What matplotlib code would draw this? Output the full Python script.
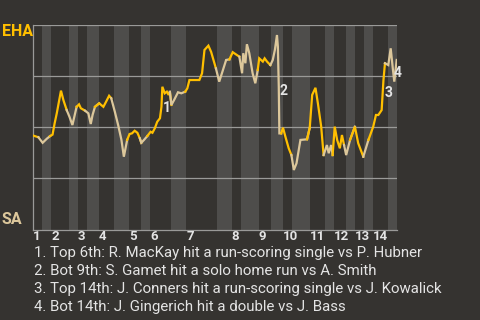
import matplotlib
matplotlib.use('Agg')
from matplotlib import pyplot as plt

# half-inning boundaries in plate appearances (top 1st starts at 0)
half_starts = [0, 3, 6, 12, 15, 18, 22, 27, 32, 36, 39, 46, 51, 61, 66, 69, 75,
               79, 83, 86, 92, 97, 100, 104, 107, 110, 113, 118, 121]
innings = ['1', '2', '3', '4', '5', '6', '7', '8', '9', '10', '11', '12', '13', '14']

# win probability for EHA (%)
pa = [0.1, 1.8, 3.2, 4.6, 5.7, 6.5, 7.2, 7.9, 9.3, 10.1, 11.2, 12.1, 13.1, 14.5,
      15.3, 15.9, 17.3, 18.4, 19.2, 19.8, 20.6, 22.0, 23.4, 24.3, 25.3, 26.0,
      27.2, 28.3, 29.4, 30.2, 31.3, 32.1, 32.9, 33.8, 34.7, 35.5, 36.0, 36.9,
      38.0, 39.1, 39.7, 40.5, 41.3, 42.2, 42.7, 43.0, 43.8, 44.5, 45.1, 45.5,
      46.0, 46.9, 48.2, 49.3, 50.6, 51.3, 52.0, 55.3, 56.2, 57.0, 58.3, 59.2,
      60.8, 61.9, 62.8, 64.2, 65.3, 66.4, 68.6, 69.5, 69.9, 70.6, 71.1, 71.9,
      73.0, 73.9, 74.7, 75.2, 76.4, 77.0, 77.8, 78.9, 79.7, 80.4, 81.1, 81.4,
      81.7, 81.9, 82.5, 83.1, 83.9, 85.0, 85.9, 86.7, 87.6, 88.9, 91.1, 92.0,
      92.8, 93.9, 94.7, 95.8, 96.6, 97.7, 98.3, 99.1, 99.6, 100.3, 101.1, 102.0,
      102.7, 103.4, 104.1, 105.4, 107.0, 108.1, 109.8, 111.5, 113.1, 114.0,
      114.8, 115.9, 116.5, 117.0, 118.1, 118.9, 119.6, 120.1, 120.9]
wp = [45.9, 45.1, 42.4, 44.4, 45.7, 46.4, 52.0, 56.8, 67.9, 63.3, 58.4, 55.2,
      51.1, 60.0, 61.2, 59.3, 58.1, 56.8, 51.6, 56.0, 60.0, 61.7, 60.0, 62.5,
      65.4, 64.2, 57.6, 51.1, 43.8, 35.6, 43.8, 46.7, 47.0, 48.3, 47.3, 44.6,
      42.4, 43.8, 45.7, 47.8, 47.3, 49.5, 52.7, 54.4, 60.0, 69.8, 66.6, 67.4,
      65.8, 67.4, 60.9, 63.3, 67.1, 66.6, 67.4, 69.0, 73.1, 73.1, 76.4, 87.8,
      89.9, 86.9, 78.8, 72.3, 76.4, 82.9, 83.2, 86.7, 84.5, 76.4, 86.2, 81.3,
      90.6, 86.2, 76.4, 71.5, 78.0, 83.7, 82.1, 83.7, 82.1, 80.4, 82.9, 87.8,
      95.1, 89.4, 69.8, 47.0, 47.0, 49.8, 45.4, 39.7, 36.4, 29.1, 32.4, 43.8,
      44.1, 49.8, 65.8, 69.3, 61.7, 50.3, 36.4, 41.3, 37.3, 41.3, 36.4, 50.3,
      43.8, 39.7, 46.2, 41.3, 36.4, 43.8, 50.3, 42.2, 35.6, 43.8, 50.3, 56.0,
      56.0, 58.4, 73.1, 81.3, 80.4, 88.6, 78.8, 72.3, 82.9]

notes = ['1. Top 6th: R. MacKay hit a run-scoring single vs P. Hubner',
         '2. Bot 9th: S. Gamet hit a solo home run vs A. Smith',
         '3. Top 14th: J. Conners hit a run-scoring single vs J. Kowalick',
         '4. Bot 14th: J. Gingerich hit a double vs J. Bass']
note_x = [44.4, 83.3, 118.1, 121.3]
note_y = [59.3, 67.9, 66.9, 76.7]

bg = '#353330'
band = '#4e4d4b'
gold = '#ffbf00'
tan = '#dcc79b'
grid = '#9a9a98'
txt = '#e4e4e4'

plt.rcParams['font.family'] = ['Roboto', 'DejaVu Sans']
fig = plt.figure(figsize=(4.8, 3.2), dpi=100, facecolor=bg)
ax = fig.add_axes([33 / 480, 1 - 229.5 / 320, 364 / 480, 204.5 / 320])
ax.set_facecolor(bg)
ax.set_xlim(0, 121)
ax.set_ylim(0, 100)

# shade bottom halves
for i in range(1, len(half_starts) - 1, 2):
    ax.axvspan(half_starts[i], half_starts[i + 1], color=band, lw=0, zorder=0)

for yv in [25, 50, 75, 100]:
    ax.axhline(yv, color=grid, lw=0.9, zorder=1)

# line coloured by batting team
for i in range(len(half_starts) - 1):
    a, b = half_starts[i], half_starts[i + 1]
    idx = [k for k in range(len(pa)) if a <= pa[k] <= b]
    if not idx:
        continue
    if idx[0] > 0:
        idx = [idx[0] - 1] + idx
    ax.plot([pa[k] for k in idx], [wp[k] for k in idx],
            color=gold if i % 2 == 0 else tan, lw=1.6, zorder=3,
            solid_joinstyle='miter')

for n, (x, y) in enumerate(zip(note_x, note_y)):
    ax.text(x, y, str(n + 1), color=txt, fontsize=10, fontweight='bold',
            ha='center', va='center', zorder=4)

for s in ['top', 'right']:
    ax.spines[s].set_visible(False)
for s in ['left', 'bottom']:
    ax.spines[s].set_color(grid)
    ax.spines[s].set_linewidth(0.9)
ax.set_xticks([])
ax.set_yticks([])

for k, lab in enumerate(innings):
    ax.text(half_starts[2 * k], -0.036 * 100, lab, color=txt, fontsize=9.5,
            fontweight='bold', ha='left', va='center', clip_on=False)

fig.text(2 / 480, 1 - 31 / 320, 'EHA', color=gold, fontsize=11.5,
         fontweight='bold', ha='left', va='center')
fig.text(2 / 480, 1 - 219.7 / 320, 'SA', color=tan, fontsize=11.5,
         fontweight='bold', ha='left', va='center')

for j, note in enumerate(notes):
    fig.text(34 / 480, 1 - (257.5 + 17.7 * j) / 320, note, color=txt,
             fontsize=10.8, ha='left', va='baseline')

fig.savefig('out.png', dpi=100, facecolor=bg)
